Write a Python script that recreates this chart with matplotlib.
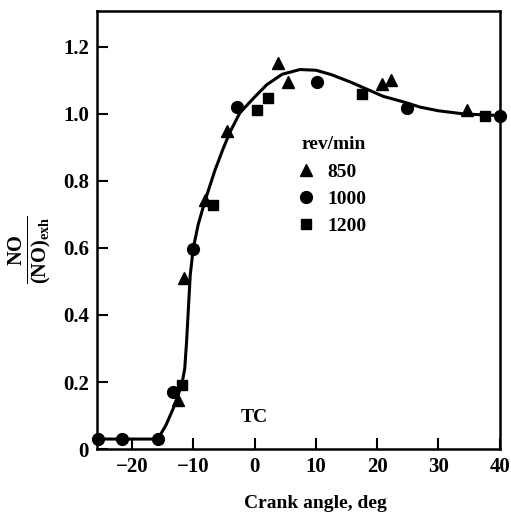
import matplotlib
matplotlib.use("Agg")
import matplotlib.pyplot as plt
from matplotlib.ticker import FixedLocator, FuncFormatter

# values
curve_x = [-25.7, -15.8, -14.5, -13.3, -12.5, -11.8, -11.4, -11.1, -10.8, -10.5,
           -10.0, -9.2, -8.1, -6.5, -5.2, -4.0, -2.4, 0.0, 2.0, 4.5, 7.4, 10.0,
           12.5, 15.6, 18.5, 21.0, 24.2, 27.0, 30.0, 34.0, 37.0, 40.0]
curve_y = [0.03, 0.03, 0.07, 0.12, 0.16, 0.20, 0.24, 0.32, 0.42, 0.52,
           0.60, 0.67, 0.74, 0.83, 0.893, 0.946, 1.003, 1.05, 1.087, 1.118, 1.132, 1.13,
           1.117, 1.095, 1.072, 1.052, 1.036, 1.02, 1.009, 1.0, 0.997, 0.995]

rpm850_x = [-12.5, -11.5, -8.1, -4.5, 3.8, 5.4, 20.8, 22.2, 34.6]
rpm850_y = [0.146, 0.51, 0.743, 0.95, 1.152, 1.095, 1.09, 1.10, 1.01]

rpm1000_x = [-25.5, -21.6, -15.8, -13.3, -10.0, -2.9, 10.2, 24.9, 40.0]
rpm1000_y = [0.03, 0.03, 0.03, 0.17, 0.597, 1.02, 1.095, 1.018, 0.994]

rpm1200_x = [-11.8, -6.8, 0.4, 2.2, 17.5, 37.6]
rpm1200_y = [0.19, 0.728, 1.01, 1.048, 1.06, 0.994]

x_ticks = [-20, -10, 0, 10, 20, 30, 40]
y_ticks = [0, 0.2, 0.4, 0.6, 0.8, 1.0, 1.2]

plt.rcParams['font.family'] = ['Liberation Serif', 'DejaVu Serif']
plt.rcParams['font.weight'] = 'bold'
plt.rcParams['mathtext.fontset'] = 'custom'
plt.rcParams['mathtext.rm'] = 'Liberation Serif'
plt.rcParams['mathtext.bf'] = 'Liberation Serif:bold'

fig = plt.figure(figsize=(5.11, 5.18), dpi=100)
ax = fig.add_axes([0.190, 0.133, 0.788, 0.846])

ax.plot(curve_x, curve_y, color='black', lw=2.2, zorder=2)
ax.plot(rpm850_x, rpm850_y, '^', color='black', ms=8.5, label='850', zorder=3)
ax.plot(rpm1000_x, rpm1000_y, 'o', color='black', ms=8.5, label='1000', zorder=3, clip_on=False)
ax.plot(rpm1200_x, rpm1200_y, 's', color='black', ms=7.5, label='1200', zorder=3)

ax.set_xlim(-25.7, 40)
ax.set_ylim(0, 1.307)
ax.xaxis.set_major_locator(FixedLocator(x_ticks))
ax.yaxis.set_major_locator(FixedLocator(y_ticks))
ax.xaxis.set_major_formatter(FuncFormatter(lambda v, p: '\u2212%d' % -v if v < 0 else '%d' % v))
ax.yaxis.set_major_formatter(FuncFormatter(lambda v, p: '0' if v == 0 else '%.1f' % v))
ax.tick_params(direction='in', length=8, width=1.5, labelsize=15, pad=6)
for s in ax.spines.values():
    s.set_linewidth(1.8)

ax.set_xlabel('Crank angle, deg', fontsize=14, fontweight='bold', va='center')
ax.xaxis.set_label_coords(0.543, -0.123)
ax.set_ylabel(r'$\mathbf{\frac{NO}{(NO)_{exh}}}$', fontsize=21, va='center')
ax.yaxis.set_label_coords(-0.166, 0.454)

ax.text(0, 0.095, 'TC', ha='center', va='center', fontsize=14, fontweight='bold')

leg = ax.legend(title='rev/min', loc='upper left', bbox_to_anchor=(0.46, 0.745),
                frameon=False, fontsize=14, title_fontsize=14,
                handlelength=1.0, handletextpad=0.6, labelspacing=0.5,
                borderpad=0.2)
leg._legend_box.align = 'right'

fig.savefig('out.png', dpi=100)
